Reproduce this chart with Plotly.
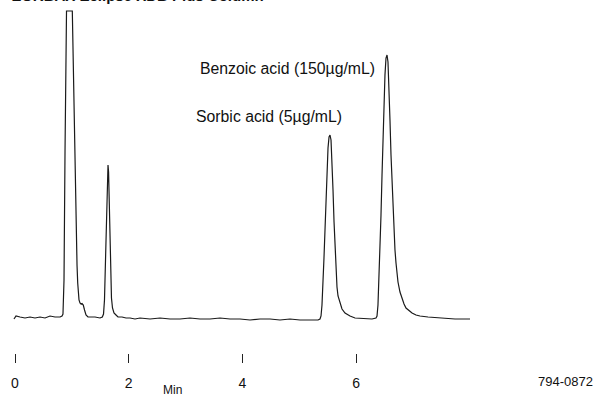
import plotly.graph_objects as go

# Retention time (min) and detector signal (arbitrary units)
time_min = [
    -0.018, 0.018, 0.088, 0.176, 0.264, 0.352, 0.440, 0.528, 0.616, 0.704, 0.792, 0.827,
    0.844, 0.862, 0.880, 0.897, 0.906, 1.008, 1.020, 1.038, 1.055, 1.073, 1.091, 1.103,
    1.113, 1.126, 1.143, 1.161, 1.179, 1.201, 1.223, 1.249, 1.284, 1.319, 1.407, 1.495,
    1.536, 1.557, 1.574, 1.592, 1.610, 1.627, 1.636, 1.646, 1.662, 1.680, 1.697, 1.715,
    1.741, 1.777, 1.812, 1.882, 1.953, 2.023, 2.111, 2.199, 2.375, 2.551, 2.727, 2.902,
    3.078, 3.254, 3.430, 3.606, 3.782, 3.958, 4.134, 4.310, 4.486, 4.661, 4.837, 5.013,
    5.189, 5.330, 5.365, 5.383, 5.400, 5.418, 5.435, 5.453, 5.471, 5.488, 5.506, 5.524,
    5.541, 5.559, 5.576, 5.594, 5.612, 5.629, 5.647, 5.664, 5.682, 5.717, 5.752, 5.805,
    5.893, 5.981, 6.157, 6.280, 6.350, 6.368, 6.385, 6.403, 6.420, 6.438, 6.456, 6.473,
    6.491, 6.508, 6.526, 6.544, 6.561, 6.579, 6.596, 6.614, 6.632, 6.649, 6.667, 6.684,
    6.702, 6.720, 6.737, 6.772, 6.808, 6.843, 6.878, 6.931, 6.984, 7.054, 7.124, 7.265,
    7.476, 7.740, 8.004,
]
signal = [
    1, 4, 3, 2, 3, 2, 3, 2, 4, 3, 3, 4,
    6, 40, 170, 280, 309, 309, 270, 210, 150, 95, 55, 37,
    27, 20, 17, 16, 16.5, 15, 10, 5, 3, 3, 3, 2,
    3, 6, 20, 60, 110, 148, 155, 148, 105, 55, 22, 12,
    7, 5, 3, 3, 2, 2, 1, 2, 1, 2, 1, 1,
    2, 1, 1, 2, 1, 1, 0, 1, 1, 0, 1, 0,
    0, 0, 1, 4, 15, 35, 62, 90, 120, 150, 172, 183,
    185, 180, 160, 130, 98, 70, 48, 33, 24, 16, 11, 7,
    4, 2, 1, 1, 2, 4, 15, 40, 70, 105, 145, 180,
    215, 245, 262, 265, 258, 235, 200, 165, 135, 108, 87, 70,
    57, 46, 38, 28, 21, 16, 12, 9, 7, 5, 4, 3,
    2, 1, 1,
]

tick_vals = [0, 2, 4, 6]
tick_text = ["0", "2", "4", "6"]

title_text = "ZORBAX Eclipse XDB Plus Column"
x_axis_label = "Min"
figure_code = "794-0872"
peak_labels = ["Benzoic acid (150µg/mL)", "Sorbic acid (5µg/mL)"]
peak_label_pos = [(4.80, 252), (4.46, 204)]

FONT = "Arial, 'Liberation Sans', sans-serif"

fig = go.Figure()
fig.add_trace(go.Scatter(
    x=time_min, y=signal, mode="lines",
    line=dict(color="#1a1a1a", width=1.2),
    hoverinfo="skip", showlegend=False,
))

for text, (tx, ty) in zip(peak_labels, peak_label_pos):
    fig.add_annotation(x=tx, y=ty, xref="x", yref="y", text=text, showarrow=False,
                       xanchor="center", yanchor="middle",
                       font=dict(family=FONT, size=15.8, color="#111"))

fig.add_annotation(x=172 / 601, y=-37 / 353, xref="paper", yref="paper", text=x_axis_label,
                   xanchor="center", yanchor="middle",
                   showarrow=False, font=dict(family=FONT, size=12, color="#111"))
fig.add_annotation(x=565 / 601, y=-28 / 353, xref="paper", yref="paper", text=figure_code,
                   xanchor="center", yanchor="middle",
                   showarrow=False, font=dict(family=FONT, size=13, color="#111"))
fig.add_annotation(x=266 / 601, y=0.9835, xref="paper", yref="paper", text="<b>" + title_text + "</b>",
                   xanchor="right", yanchor="bottom", showarrow=False,
                   font=dict(family=FONT, size=15, color="#111"))

fig.update_layout(
    width=601, height=397,
    margin=dict(l=0, r=0, t=0, b=44),
    paper_bgcolor="white", plot_bgcolor="white",
    font=dict(family=FONT, color="#111"),
    xaxis=dict(range=[-0.2639, 10.308], showgrid=False, zeroline=False, showline=False,
               tickmode="array", tickvals=tick_vals, ticktext=tick_text,
               ticks="outside", ticklen=9, tickwidth=1, tickcolor="#222",
               ticklabelstandoff=8, tickfont=dict(family=FONT, size=14, color="#111")),
    yaxis=dict(range=[-33, 320], showgrid=False, zeroline=False, showline=False,
               showticklabels=False, ticks=""),
)

fig.write_html("out.html", config={"displayModeBar": False},
               post_script="document.body.style.margin='0';document.body.style.overflow='hidden';")
